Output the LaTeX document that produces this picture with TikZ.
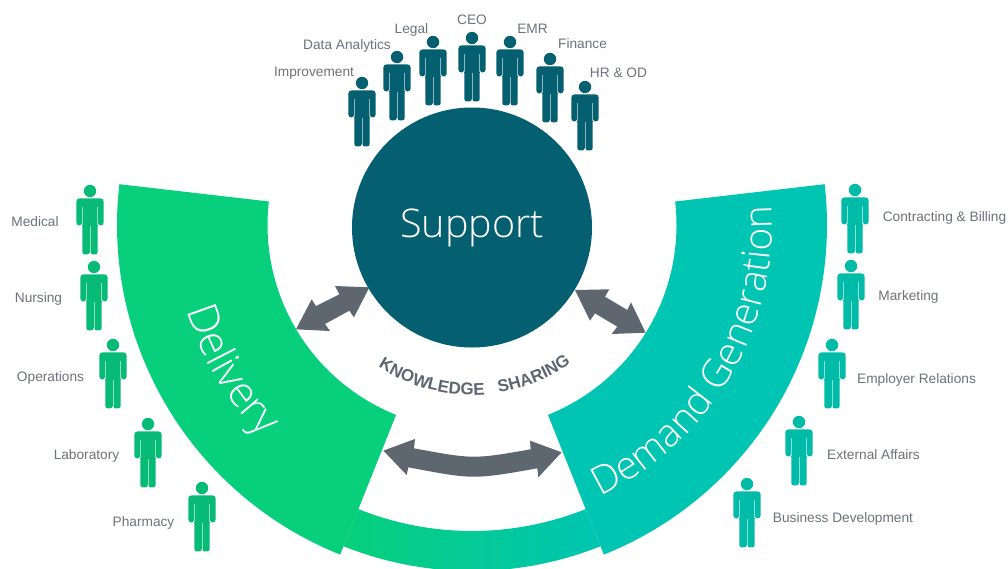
\documentclass[tikz,border=0pt]{standalone}
\usepackage{fontspec}
\usetikzlibrary{decorations.text}
\setmainfont{Liberation Sans}
\newfontfamily\lightf{Open Sans Light}
\definecolor{cgreen}{HTML}{07CF7B}
\definecolor{cteal}{HTML}{00C5B2}
\definecolor{pgreen}{HTML}{07BB77}
\definecolor{pteal}{HTML}{00BBA8}
\definecolor{cnavy}{HTML}{045F70}
\definecolor{cgrey}{HTML}{5E6770}
\definecolor{ctext}{HTML}{6B737B}
\tikzset{
  lab/.style={text=ctext,font=\fontsize{13.7}{15}\selectfont,inner sep=0pt,anchor=center,yshift=-1},
  blockarrow/.style={fill=cgrey,draw=none},
  pics/person/.style={code={
    \fill[#1] (0,0) circle[radius=6.2];
    \fill[#1,rounded corners=3.2] (-13.7,34.5) -- (-13.7,7.4) -- (13.7,7.4) -- (13.7,34.5) -- (7.7,34.5) -- (7.7,20) -- (-7.7,20) -- (-7.7,34.5) -- cycle;
    \fill[#1] (-7.7,13) rectangle (7.7,35);
    \fill[#1,rounded corners=2.5] (-7.7,30) -- (-7.7,63.4) -- (-.2,63.4) -- (-.2,30) -- cycle;
    \fill[#1,rounded corners=2.5] (.2,30) -- (.2,63.4) -- (7.7,63.4) -- (7.7,30) -- cycle;
    \draw[white,opacity=.55,line width=.55] (-7.7,15.5) -- (-7.7,34) (7.7,15.5) -- (7.7,34) (0,35) -- (0,63);
  }}
}
\begin{document}
\begin{tikzpicture}[x=1pt,y=-1pt]
\clip (0,0) rectangle (1008,568);
\fill[white] (0,0) rectangle (1008,568);
% band
\path[left color=cgreen,right color=cteal,draw=none]
  plot[domain=111.8:68.2,samples=40] ({472+346*cos(\x)},{225+346*sin(\x)})
  -- plot[domain=68.2:111.8,samples=40] ({472+306*cos(\x)},{225+306*sin(\x)}) -- cycle;
% sectors
\fill[cgreen] plot[domain=186.6:111.8,samples=80] ({472+355*cos(\x)},{225+355*sin(\x)})
  -- plot[domain=111.8:186.6,samples=80] ({472+204.5*cos(\x)},{225+204.5*sin(\x)}) -- cycle;
\fill[cteal] plot[domain=-6.6:68.2,samples=80] ({472+355*cos(\x)},{225+355*sin(\x)})
  -- plot[domain=68.2:-6.6,samples=80] ({472+204.5*cos(\x)},{225+204.5*sin(\x)}) -- cycle;
% curved titles
\path[decorate,decoration={text along path,text align=center,
  text={|\color{white}\lightf\fontsize{42}{46}\selectfont|Delivery}}]
  plot[domain=177:121,samples=60] ({472+298*cos(\x)},{225+298*sin(\x)});
\path[decorate,decoration={text along path,text align=center,
  text={|\color{white}\lightf\fontsize{39}{44}\selectfont|Demand Generation}}]
  plot[domain=73:-12,samples=80] ({472+300*cos(\x)},{225+300*sin(\x)});
% support circle
\node[circle,fill=cnavy,minimum size=240,inner sep=0pt,text=white,font=\lightf\fontsize{39.5}{44}\selectfont] (support) at (472,227.5) {\raisebox{-8.5pt}{Support}};
% knowledge sharing
\path[decorate,decoration={text along path,text align=center,
  text={|\color{cgrey}\bfseries\fontsize{17}{19}\selectfont|KNOWLEDGE\ \ \ SHARING}}]
  plot[domain=132:46,samples=60] ({472+170*cos(\x)},{225+170*sin(\x)});
% arrows
\begin{scope}[shift={(280,260)},x=.3333pt,y=-.3333pt]
\fill[blockarrow] (48,208)--(95,118)--(108,138)--(178,103)--(165,78)--(268,82)--(222,172)--(208,152)--(135,192)--(150,213)--cycle;
\fill[blockarrow] (885,90)--(988,88)--(975,110)--(1042,150)--(1053,127)--(1097,218)--(995,222)--(1012,200)--(945,160)--(930,182)--cycle;
\fill[blockarrow] (310,572)--(405,537)--(402,565) .. controls (580,598) .. (752,568) --(750,542)--(845,577)--(775,652)--(772,625) .. controls (580,659) .. (385,622) --(380,645)--cycle;
\end{scope}
% people
\foreach \n/\px/\py in {imp/362/83,dat/397/57,leg/433/42,ceo/472/38,emr/510/42,fin/550/59,hro/585/87}
  \pic (\n) at (\px,\py) {person=cnavy};
\foreach \n/\px/\py in {med/90/191,nur/94/267,ope/113/345,lab/148/424,pha/202/488}
  \pic (\n) at (\px,\py) {person=pgreen};
\foreach \n/\px/\py in {con/855/190,mar/851/266,emp/832/345,ext/799/422,bus/747/484}
  \pic (\n) at (\px,\py) {person=pteal};
% labels
\node[lab] (limp) at (314,72) {Improvement};
\node[lab] (ldat) at (347,45) {Data Analytics};
\node[lab] (lleg) at (411.5,29) {Legal};
\node[lab] (lceo) at (472,19) {CEO};
\node[lab] (lemr) at (532.5,28) {EMR};
\node[lab] (lfin) at (582.5,43) {Finance};
\node[lab] (lhro) at (618.5,72) {HR \& OD};
\node[lab] (lmed) at (35,221) {Medical};
\node[lab] (lnur) at (38.5,298) {Nursing};
\node[lab] (lope) at (50.5,377) {Operations};
\node[lab] (llab) at (86.5,455) {Laboratory};
\node[lab] (lpha) at (143.5,522) {Pharmacy};
\node[lab] (lcon) at (944.5,217) {Contracting \& Billing};
\node[lab] (lmar) at (908.5,296) {Marketing};
\node[lab] (lemp) at (916.5,379) {Employer Relations};
\node[lab] (lext) at (873.5,454) {External Affairs};
\node[lab] (lbus) at (843,518) {Business Development};
\end{tikzpicture}
\end{document}
